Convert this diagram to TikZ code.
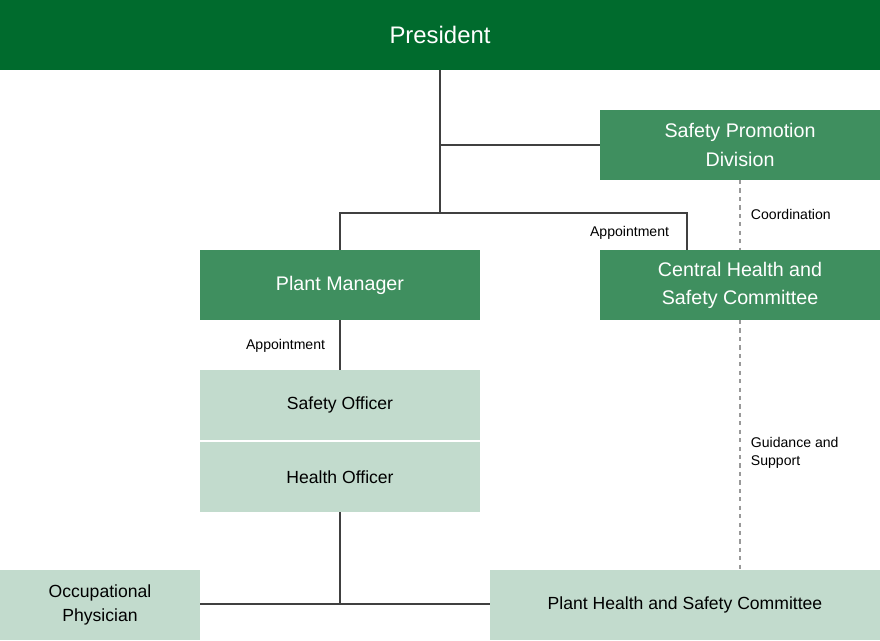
\documentclass[tikz,border=0pt]{standalone}
\usepackage{fontspec}
\setmainfont{Liberation Sans}
\definecolor{darkgreen}{HTML}{006B2D}
\definecolor{midgreen}{HTML}{3F8F5F}
\definecolor{lightgreen}{HTML}{C2DBCD}
\begin{document}
\begin{tikzpicture}[x=0.025cm,y=-0.025cm,
  top/.style={fill=darkgreen,text=white,font=\fontsize{17}{20}\selectfont},
  mid/.style={fill=midgreen,text=white,align=center,font=\fontsize{14}{20}\selectfont},
  low/.style={fill=lightgreen,text=black,align=center,font=\fontsize{12.5}{17}\selectfont},
  lbl/.style={font=\fontsize{10}{13}\selectfont,align=left},
  link/.style={draw=black!75,line width=0.9pt},
  dashlink/.style={draw=black!40,line width=0.9pt,dashed}]
\useasboundingbox (0,0) rectangle (880,640);
\fill[top] (0,0) rectangle (880,70);
\node[top] (pres) at (440,35) {President};
\fill[mid] (600,110) rectangle (880,180);
\node[mid] (spd) at (740,145) {Safety Promotion\\Division};
\fill[mid] (200,250) rectangle (480,320);
\node[mid] (pm) at (340,285) {Plant Manager};
\fill[mid] (600,250) rectangle (880,320);
\node[mid] (chsc) at (740,285) {Central Health and\\Safety Committee};
\fill[low] (200,370) rectangle (480,440);
\node[low] (so) at (340,405) {Safety Officer};
\fill[low] (200,442) rectangle (480,512);
\node[low] (ho) at (340,477) {Health Officer};
\fill[low] (0,570) rectangle (200,640);
\node[low] (op) at (100,605) {Occupational\\Physician};
\fill[low] (490,570) rectangle (880,640);
\node[low] (phsc) at (685,605) {Plant Health and Safety Committee};
% connectors
\coordinate (pb) at (440,70);
\coordinate (pj) at (440,213);
\coordinate (sl) at (600,145);
\coordinate (hb) at (340,512);
\coordinate (hj) at (340,604);
\draw[link] (pb) -- (pj);
\draw[link] (pb |- sl) -- (sl);
\draw[link] (340,250) |- (pj) -| (687,250);
\draw[link] (340,320) -- (340,370);
\draw[link] (hb) -- (hj);
\draw[link] (200,604) -- (490,604);
\draw[dashlink] (740,180) -- (740,250);
\draw[dashlink] (740,320) -- (740,570);
% labels
\node[lbl,anchor=east] (ap1) at (674,233) {Appointment};
\node[lbl,anchor=east] (ap2) at (330,346) {Appointment};
\node[lbl,anchor=west] (co) at (746,214) {Coordination};
\node[lbl,anchor=west] (gs) at (746,453) {Guidance and\\Support};
\end{tikzpicture}
\end{document}
